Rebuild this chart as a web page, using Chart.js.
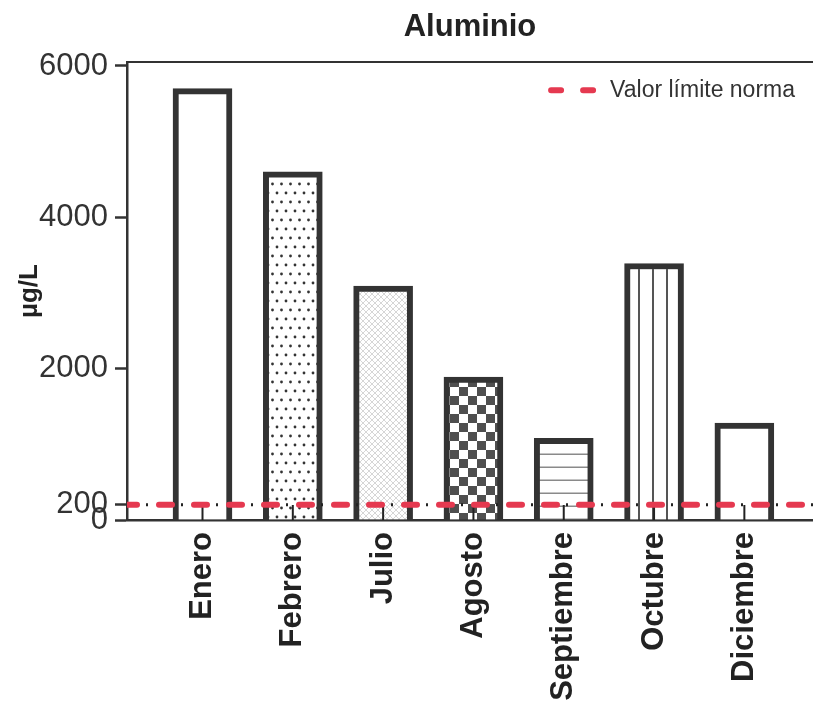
<!DOCTYPE html>
<html>
<head>
<meta charset="utf-8">
<script src="https://cdn.jsdelivr.net/npm/chart.js@4.4.1/dist/chart.umd.min.js"></script>
<style>
  html, body { margin: 0; padding: 0; background: #fff; }
</style>
</head>
<body>
<canvas id="chart" width="813" height="702"></canvas>
<script>
const months = ['Enero', 'Febrero', 'Julio', 'Agosto', 'Septiembre', 'Octubre', 'Diciembre'];
const aluminio = [5700, 4600, 3090, 1890, 1080, 3390, 1280];
const limite = 200;
const yTicks = [0, 200, 2000, 4000, 6000];

const FONT = "'Liberation Sans', Arial, sans-serif";
const RED = '#e53950';
const xMin = -0.836, xMax = 6.76;

const canvas = document.getElementById('chart');
const ctx = canvas.getContext('2d');

// tramas de relleno de cada barra
function makePattern(w, h, draw) {
    const c = document.createElement('canvas');
    c.width = w; c.height = h;
    const g = c.getContext('2d');
    g.fillStyle = '#fff';
    g.fillRect(0, 0, w, h);
    draw(g);
    return ctx.createPattern(c, 'repeat');
}

const dots = makePattern(9, 18, g => {
    g.fillStyle = '#333';
    g.beginPath(); g.arc(2.5, 4, 1.4, 0, Math.PI * 2); g.fill();
    g.beginPath(); g.arc(7, 13, 1.4, 0, Math.PI * 2); g.fill();
});
const fine = makePattern(6, 6, g => {
    g.strokeStyle = '#d6d6d6';
    g.lineWidth = 1;
    g.beginPath(); g.moveTo(0, 0); g.lineTo(6, 6); g.moveTo(6, 0); g.lineTo(0, 6); g.stroke();
});
const checker = makePattern(18, 18, g => {
    g.fillStyle = '#4f4f4f';
    g.fillRect(0, 0, 9, 9);
    g.fillRect(9, 9, 9, 9);
});
const hLines = makePattern(4, 13, g => {
    g.fillStyle = '#8a8a8a';
    g.fillRect(0, 11.5, 4, 1.5);
});
const vLines = makePattern(14, 4, g => {
    g.fillStyle = '#555';
    g.fillRect(8, 0, 2, 4);
});
const fills = ['#fff', dots, fine, checker, hLines, vLines, '#fff'];

// marcas cortas del eje x hacia dentro
const innerTicks = {
    id: 'innerTicks',
    afterDatasetDraw(chart, args) {
        if (args.index !== 0) return;
        const x = chart.scales.x;
        const c = chart.ctx;
        c.save();
        c.strokeStyle = '#222';
        c.lineWidth = 2;
        x.ticks.forEach(t => {
            const px = x.getPixelForValue(t.value);
            c.beginPath();
            c.moveTo(px, x.top);
            c.lineTo(px, x.top - 15);
            c.stroke();
        });
        c.restore();
    }
};

// leyenda dentro del area, arriba a la derecha
const limitLegend = {
    id: 'limitLegend',
    afterDraw(chart) {
        const ds = chart.data.datasets[2];
        const area = chart.chartArea;
        const c = chart.ctx;
        c.save();
        c.font = '23px ' + FONT;
        c.fillStyle = '#333';
        c.textBaseline = 'middle';
        const tw = c.measureText(ds.label).width;
        const tx = area.right - 18 - tw;
        const ty = area.top + 28;
        c.fillText(ds.label, tx, ty);
        c.strokeStyle = ds.borderColor;
        c.lineWidth = ds.borderWidth;
        c.lineCap = 'round';
        c.setLineDash([10, 22]);
        c.beginPath();
        c.moveTo(tx - 59, ty);
        c.lineTo(tx - 14, ty);
        c.stroke();
        c.restore();
    }
};

new Chart(ctx, {
    type: 'bar',
    data: {
        datasets: [
            {
                type: 'bar',
                label: 'Aluminio',
                data: months.map((m, i) => ({ x: i, y: aluminio[i] })),
                backgroundColor: fills,
                borderColor: '#333',
                borderWidth: 6,
                barThickness: 59,
                order: 2
            },
            {
                type: 'line',
                label: 'puntos',
                data: [{ x: xMin, y: limite }, { x: xMax, y: limite }],
                borderColor: '#222',
                borderWidth: 3,
                borderDash: [2, 33],
                borderDashOffset: -19,
                pointRadius: 0,
                order: 1
            },
            {
                type: 'line',
                label: 'Valor límite norma',
                data: [{ x: xMin, y: limite }, { x: xMax, y: limite }],
                borderColor: RED,
                borderWidth: 6,
                borderDash: [13, 22],
                borderDashOffset: 3,
                borderCapStyle: 'round',
                pointRadius: 0,
                order: 0
            }
        ]
    },
    options: {
        responsive: false,
        animation: false,
        layout: { padding: 0 },
        plugins: {
            tooltip: { enabled: false },
            legend: { display: false },
            title: {
                display: true,
                text: 'Aluminio',
                fullSize: false,
                color: '#222',
                font: { family: FONT, size: 31, weight: 'bold' },
                padding: { top: 9, bottom: 16 }
            }
        },
        scales: {
            x: {
                type: 'linear',
                min: xMin,
                max: xMax,
                offset: false,
                afterBuildTicks: s => { s.ticks = months.map((m, i) => ({ value: i })); },
                afterFit: s => { s.height = 182; },
                grid: { display: true, drawOnChartArea: false, drawTicks: false, offset: false },
                border: { display: true, color: '#333', width: 2.5 },
                ticks: {
                    autoSkip: false,
                    minRotation: 90,
                    maxRotation: 90,
                    padding: 12,
                    color: '#222',
                    font: { family: FONT, size: 31, weight: 'bold' },
                    callback: v => months[v]
                }
            },
            x2: {
                type: 'linear',
                position: 'top',
                afterFit: s => { s.height = 0; },
                grid: { display: true, drawOnChartArea: false, drawTicks: false },
                border: { display: true, color: '#333', width: 2 },
                ticks: { display: false }
            },
            y: {
                min: 0,
                max: 6050,
                afterBuildTicks: s => { s.ticks = yTicks.map(v => ({ value: v })); },
                afterFit: s => { s.width = 127; },
                grid: { drawOnChartArea: false, tickLength: 12, tickWidth: 2.5, tickColor: '#333' },
                border: { color: '#333', width: 2.5 },
                ticks: {
                    autoSkip: false,
                    padding: 7,
                    color: '#333',
                    font: { family: FONT, size: 31 },
                    callback: v => String(v)
                },
                title: {
                    display: true,
                    text: 'µg/L',
                    color: '#222',
                    font: { family: FONT, size: 26, weight: 'bold' },
                    padding: { top: 14, bottom: 0 }
                }
            }
        }
    },
    plugins: [innerTicks, limitLegend]
});
</script>
</body>
</html>
